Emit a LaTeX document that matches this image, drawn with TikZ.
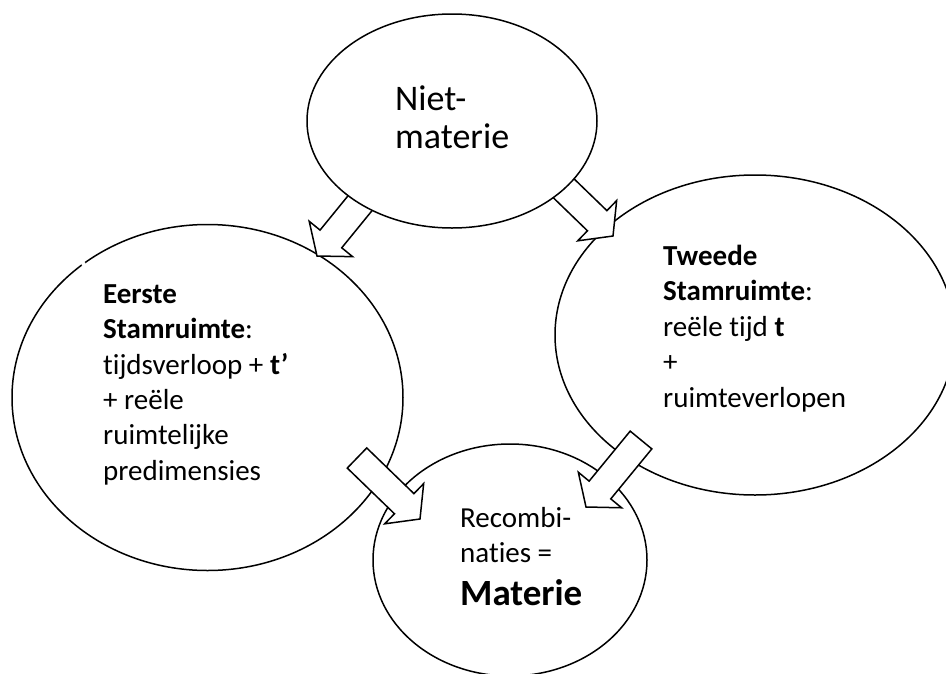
\documentclass[tikz,border=0pt]{standalone}
\usepackage{fontspec}
\setmainfont[Ligatures=NoCommon]{Carlito}
\usetikzlibrary{shapes.geometric,calc}

\tikzset{
  bubble/.style={ellipse, draw=black, fill=white, line width=1.5pt, inner sep=0pt},
  arrowbody/.style={draw=black, fill=white, line width=1.5pt, line join=miter},
  % multi-line labels: the base anchor sits on the last line
  blocktext/.style={align=left, anchor=base west, inner sep=0pt, text=black},
}

% Broad block arrow from #1 (middle of the shaft end) to #2 (tip)
\newcommand{\flowarrow}[2]{%
  \coordinate (hb) at ($(#2)!22pt!(#1)$);
  \draw[arrowbody]
    ($(#1)!14pt!-90:(#2)$) -- ($(hb)!14pt!-90:(#2)$) -- ($(hb)!28pt!-90:(#2)$)
    -- (#2)
    -- ($(hb)!28pt!90:(#2)$) -- ($(hb)!14pt!90:(#2)$) -- ($(#1)!14pt!90:(#2)$) -- cycle;}

\begin{document}
\begin{tikzpicture}[x=1pt,y=-1pt]
  \useasboundingbox (0,0) rectangle (946,673);
  \clip (0,0) rectangle (946,673);

  % the three outer bubbles
  \node[bubble, minimum width=391pt, minimum height=346pt] (first) at (207.5,397.5) {};
  \fill[white] (83.5,264) circle (2.2pt);
  \node[bubble, minimum width=400pt, minimum height=320pt] (second) at (755,335) {};
  \node[bubble, minimum width=274pt, minimum height=232pt] (matter) at (510,560) {};

  % arrow ends
  \coordinate (a1s) at (370,191);  \coordinate (a1t) at (317,256);
  \coordinate (a2s) at (552,177);  \coordinate (a2t) at (613,236);
  \coordinate (a3s) at (357,458);  \coordinate (a3t) at (420,519);
  \coordinate (a4s) at (641,440);  \coordinate (a4t) at (586,507);

  \flowarrow{a1s}{a1t}
  \flowarrow{a2s}{a2t}
  \flowarrow{a3s}{a3t}
  \flowarrow{a4s}{a4t}

  % source bubble, on top of the arrow shafts
  \node[bubble, minimum width=290pt, minimum height=214pt] (source) at (452,121) {};

  % texts
  \node[blocktext, font=\fontsize{36}{38}\selectfont] (sourcetext) at (395,148)
    {Niet-\\materie};
  \node[blocktext, font=\fontsize{29}{35.3}\selectfont] (firsttext) at (103,480)
    {\textbf{Eerste}\\\textbf{Stamruimte}:\\tijdsverloop + \textbf{t’}\\+ reële\\ruimtelijke\\predimensies};
  \node[blocktext, font=\fontsize{29}{35.5}\selectfont] (secondtext) at (663,407)
    {\textbf{Tweede}\\\textbf{Stamruimte}:\\reële tijd \textbf{t}\\+\\ruimteverlopen};
  \node[blocktext, font=\fontsize{29}{35}\selectfont] (mattertext) at (460,605)
    {Recombi-\\naties =\\[8pt]{\fontsize{37}{40}\selectfont\bfseries Materie}};
\end{tikzpicture}
\end{document}
